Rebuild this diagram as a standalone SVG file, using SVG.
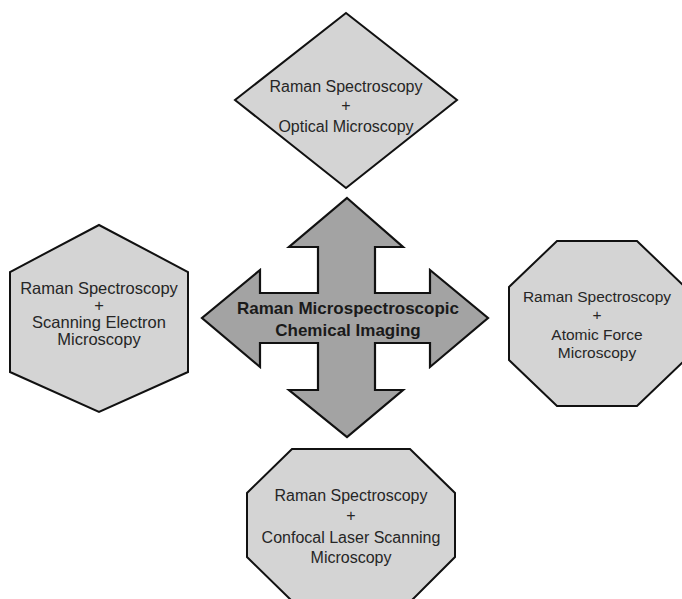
<svg xmlns="http://www.w3.org/2000/svg" width="682" height="599" viewBox="0 0 682 599">
<style>
.node{fill:#d4d4d4;stroke:#111;stroke-width:2;stroke-linejoin:miter}
.arrow{fill:#a3a3a3;stroke:#111;stroke-width:2.2;stroke-linejoin:miter}
text{font-family:"Liberation Sans",Arial,sans-serif;fill:#262626;text-anchor:middle}
.b{font-weight:bold;fill:#1a1a1a}
</style>
<rect width="682" height="599" fill="#ffffff"/>
<g id="connectors">
<polygon class="arrow" points="347,198 403,247 375,247 375,293 430,293 430,270 488,318 430,367 430,343 375,343 375,390 403,390 347,437 289,390 318,390 318,343 260,343 260,367 202,318 260,270 260,293 318,293 318,247 289,247"/>
</g>
<g id="center">
<text class="b" x="348" y="314" font-size="17">Raman Microspectroscopic</text>
<text class="b" x="348" y="336" font-size="17">Chemical Imaging</text>
</g>
<g id="optical">
<polygon class="node" points="346,13 457,100 346,188 235,100"/>
<text x="346" y="92" font-size="16">Raman Spectroscopy</text>
<text x="346" y="111" font-size="16">+</text>
<text x="346" y="132" font-size="16">Optical Microscopy</text>
</g>
<g id="sem">
<polygon class="node" points="99,225 188,272 188,372 99,412 10,372 10,272"/>
<text x="99" y="294" font-size="16.5">Raman Spectroscopy</text>
<text x="99" y="311" font-size="16.5">+</text>
<text x="99" y="328" font-size="16.5">Scanning Electron</text>
<text x="99" y="345" font-size="16.5">Microscopy</text>
</g>
<g id="afm">
<polygon class="node" points="557,241 637,241 685,287 685,360 637,406 557,406 509,360 509,287"/>
<text x="597" y="302" font-size="15.5">Raman Spectroscopy</text>
<text x="597" y="320" font-size="15.5">+</text>
<text x="597" y="340" font-size="15.5">Atomic Force</text>
<text x="597" y="358" font-size="15.5">Microscopy</text>
</g>
<g id="clsm">
<polygon class="node" points="292,449 410,449 455,493 455,557 411,601 292,601 247,557 247,493"/>
<text x="351" y="501" font-size="16">Raman Spectroscopy</text>
<text x="351" y="521" font-size="16">+</text>
<text x="351" y="543" font-size="16">Confocal Laser Scanning</text>
<text x="351" y="563" font-size="16">Microscopy</text>
</g>
</svg>
